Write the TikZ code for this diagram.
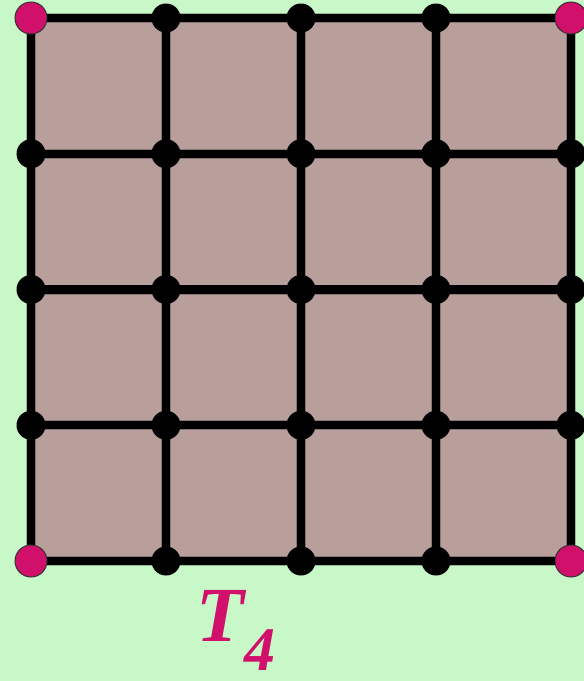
\documentclass[tikz,border=0pt]{standalone}
\usepackage{fontspec}
\setmainfont{Liberation Serif}
\usetikzlibrary{calc}
\definecolor{mintbg}{HTML}{C8F8C8}
\definecolor{tile}{HTML}{B89F9C}
\definecolor{rose}{HTML}{D0106A}
\tikzset{
  edge/.style={line width=4.2pt,black},
  edgeshade/.style={line width=5pt,black,opacity=0.25},
  vert/.style={circle,fill=black,inner sep=0pt,minimum size=14.5pt},
  corner/.style={circle,fill=rose,draw=black!80,line width=0.5pt,inner sep=0pt,minimum size=16pt},
  lbl/.style={font=\fontsize{39}{40}\selectfont\bfseries\itshape,text=rose,inner sep=0pt},
}
\begin{document}
\begin{tikzpicture}[x=0.5pt,y=-0.5pt]
\fill[mintbg] (0,0) rectangle (584,681);
\useasboundingbox (0,0) rectangle (584,681);
% grid points
\foreach \i in {0,...,4}
  \foreach \j in {0,...,4}
    \coordinate (p-\i-\j) at ({31+135*\i},{18+135.75*\j});
\fill[tile] (p-0-0) rectangle (p-4-4);
% soft shadow of the lines
\begin{scope}[shift={(3,4)}]
\foreach \i in {0,...,4}{
  \draw[edgeshade] (p-\i-0) -- (p-\i-4);
  \draw[edgeshade] (p-0-\i) -- (p-4-\i);
}
\end{scope}
\foreach \i in {0,...,4}{
  \draw[edge] (p-\i-0) -- (p-\i-4);
  \draw[edge] (p-0-\i) -- (p-4-\i);
}
\foreach \i in {0,...,4}
  \foreach \j in {0,...,4}
    \node[vert] (v-\i-\j) at (p-\i-\j) {};
\foreach \i/\j in {0/0,4/0,0/4,4/4}
  \node[corner] (c-\i-\j) at (p-\i-\j) {};
\node[lbl,anchor=base west] (name) at (196,641) {T\raisebox{-14.5pt}{\fontsize{31}{31}\selectfont 4}};
\end{tikzpicture}
\end{document}
